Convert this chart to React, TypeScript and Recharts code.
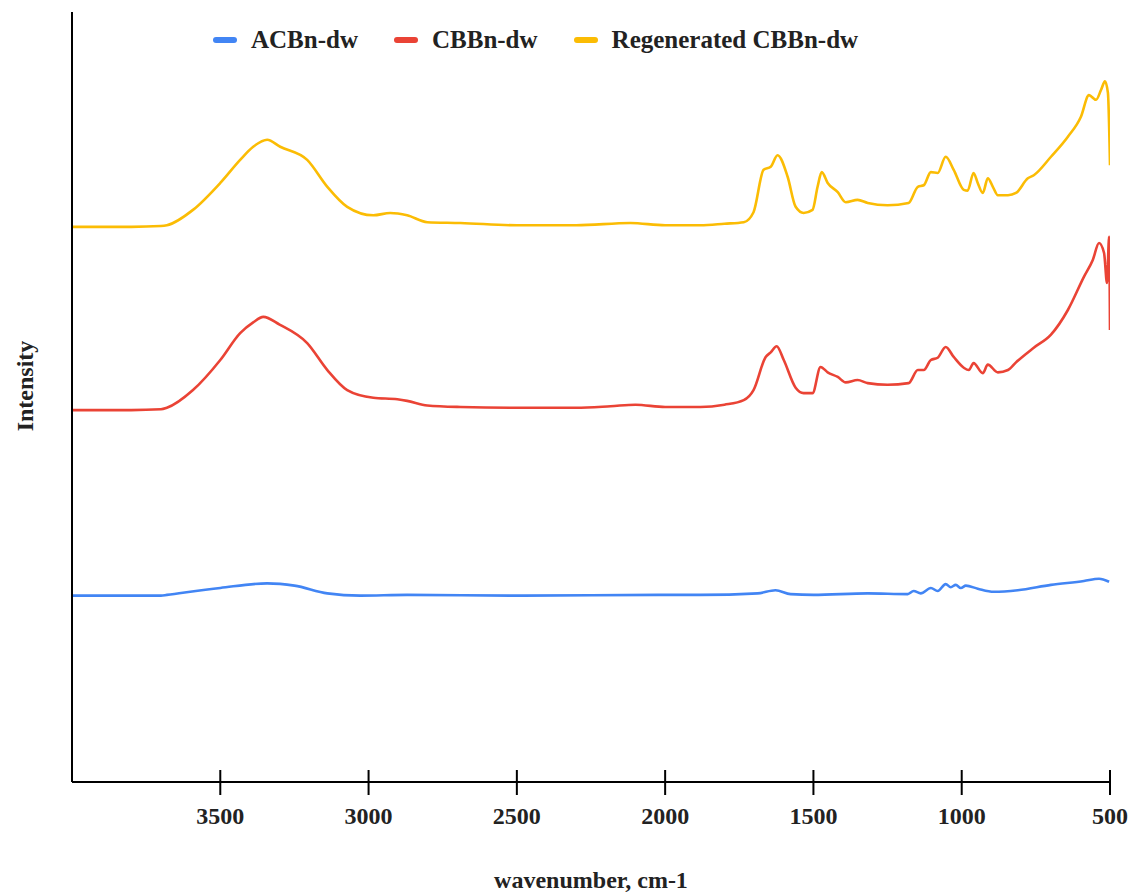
import React from 'react';
import { LineChart, Line, XAxis, YAxis, Legend } from 'recharts';

// FTIR spectra, wavenumber (cm-1) vs. stacked intensity (arbitrary units)
const acbnWavenumber = [4000, 3700, 3680, 3500, 3342, 3250, 3139, 3028, 2870, 2500, 2000, 1881, 1688, 1628, 1577, 1500, 1317, 1182, 1162, 1138, 1104, 1081, 1054, 1037, 1020, 1003, 986, 946, 892, 811, 699, 588, 537, 503];
const acbnIntensity = [24.2, 24.2, 24.3, 25.2, 25.8, 25.5, 24.5, 24.2, 24.3, 24.2, 24.3, 24.3, 24.5, 24.9, 24.4, 24.3, 24.5, 24.4, 24.8, 24.5, 25.2, 24.8, 25.7, 25.3, 25.6, 25.2, 25.5, 25.1, 24.7, 24.9, 25.6, 26.1, 26.4, 26.0];

const cbbnWavenumber = [4000, 3800, 3700, 3680, 3592, 3500, 3433, 3389, 3355, 3300, 3207, 3139, 3072, 2984, 2903, 2870, 2802, 2690, 2500, 2300, 2184, 2100, 2000, 1881, 1800, 1735, 1702, 1661, 1644, 1624, 1600, 1560, 1533, 1503, 1476, 1452, 1418, 1391, 1351, 1317, 1250, 1179, 1148, 1128, 1104, 1081, 1054, 1027, 993, 976, 960, 929, 912, 878, 844, 817, 757, 699, 642, 588, 558, 537, 520, 510, 503, 500];
const cbbnIntensity = [48.3, 48.3, 48.4, 48.6, 50.9, 54.8, 58.3, 59.7, 60.4, 59.4, 57.0, 53.5, 50.9, 49.9, 49.7, 49.5, 48.9, 48.7, 48.6, 48.6, 48.8, 49.0, 48.7, 48.7, 49.0, 49.6, 50.9, 55.2, 55.8, 56.6, 54.8, 51.2, 50.5, 50.5, 53.9, 53.2, 52.6, 51.9, 52.2, 51.8, 51.6, 51.8, 53.5, 53.5, 54.8, 55.1, 56.5, 55.2, 53.8, 53.5, 54.4, 53.1, 54.2, 53.2, 53.5, 54.5, 56.4, 58.1, 61.3, 65.6, 67.8, 70.0, 68.7, 64.8, 70.8, 58.7];

const regenWavenumber = [4000, 3800, 3700, 3680, 3592, 3500, 3433, 3389, 3342, 3298, 3207, 3139, 3072, 2984, 2927, 2870, 2802, 2690, 2500, 2300, 2117, 2000, 1881, 1800, 1735, 1702, 1668, 1644, 1621, 1587, 1560, 1533, 1503, 1486, 1472, 1452, 1418, 1391, 1351, 1317, 1250, 1179, 1148, 1128, 1104, 1081, 1054, 1027, 993, 980, 960, 946, 929, 912, 895, 878, 844, 817, 777, 757, 699, 642, 598, 571, 547, 530, 517, 507, 500];
const regenIntensity = [72.1, 72.1, 72.2, 72.3, 74.3, 77.8, 80.8, 82.5, 83.4, 82.5, 80.8, 77.3, 74.7, 73.6, 73.9, 73.6, 72.7, 72.6, 72.3, 72.3, 72.6, 72.3, 72.3, 72.5, 72.7, 74.0, 79.5, 79.9, 81.4, 78.6, 74.7, 73.9, 74.3, 77.3, 79.2, 77.8, 76.6, 75.3, 75.6, 75.2, 74.9, 75.2, 77.3, 77.5, 79.2, 79.1, 81.2, 79.5, 76.9, 76.8, 79.1, 77.8, 76.5, 78.4, 77.3, 76.2, 76.2, 76.5, 78.4, 78.8, 81.2, 83.8, 86.4, 89.2, 88.6, 89.9, 91.0, 89.5, 80.1];

const xTicks = [3500, 3000, 2500, 2000, 1500, 1000, 500];

const seriesNames = ['ACBn-dw', 'CBBn-dw', 'Regenerated CBBn-dw'];
const seriesColors = ['#4285F4', '#EA4335', '#FBBC04'];

const toPoints = (wn: number[], val: number[]) => wn.map((w, i) => ({ wn: w, v: val[i] }));

const acbnData = toPoints(acbnWavenumber, acbnIntensity);
const cbbnData = toPoints(cbbnWavenumber, cbbnIntensity);
const regenData = toPoints(regenWavenumber, regenIntensity);

const FONT = '"Liberation Serif", "Times New Roman", serif';

const XTick = (props: any) => {
  const { x, y, payload } = props;
  return (
    <g>
      <line x1={x} x2={x} y1={y - 12} y2={y + 13} stroke="#000" strokeWidth={2} />
      <text
        x={x}
        y={y + 36}
        textAnchor="middle"
        dominantBaseline="middle"
        fontFamily={FONT}
        fontWeight="bold"
        fontSize={24}
        fill="#222"
      >
        {payload.value}
      </text>
    </g>
  );
};

const LegendContent = () => (
  <div style={{ display: 'flex', alignItems: 'center', fontFamily: FONT, fontWeight: 'bold', fontSize: 25, color: '#222' }}>
    {seriesNames.map((name, i) => (
      <div key={name} style={{ display: 'flex', alignItems: 'center', marginRight: 36 }}>
        <div style={{ width: 24, height: 6, borderRadius: 3, background: seriesColors[i], marginRight: 14 }} />
        <span style={{ whiteSpace: 'nowrap' }}>{name}</span>
      </div>
    ))}
  </div>
);

export default function App() {
  return (
    <div style={{ position: 'absolute', left: 0, top: 0, width: 1137, height: 894, background: '#fff' }}>
      <LineChart width={1137} height={894} margin={{ top: 12, right: 27, bottom: 0, left: 0 }}>
        <XAxis
          type="number"
          dataKey="wn"
          domain={[500, 4000]}
          reversed
          allowDataOverflow
          ticks={xTicks}
          interval={0}
          height={112}
          tickSize={0}
          tickMargin={0}
          tickLine={false}
          axisLine={{ stroke: '#000', strokeWidth: 2 }}
          tick={<XTick />}
          label={{
            content: () => (
              <text
                x={591}
                y={882}
                textAnchor="middle"
                dominantBaseline="middle"
                fontFamily={FONT}
                fontWeight="bold"
                fontSize={24}
                fill="#222"
              >
                wavenumber, cm-1
              </text>
            ),
          }}
        />
        <YAxis
          type="number"
          domain={[0, 100]}
          width={72}
          tick={false}
          tickLine={false}
          axisLine={{ stroke: '#000', strokeWidth: 2 }}
          label={{
            content: () => (
              <text
                x={27}
                y={386}
                transform="rotate(-90 27 386)"
                textAnchor="middle"
                dominantBaseline="middle"
                fontFamily={FONT}
                fontWeight="bold"
                fontSize={24}
                fill="#222"
              >
                Intensity
              </text>
            ),
          }}
        />
        <Legend
          verticalAlign="middle"
          align="center"
          content={<LegendContent />}
          wrapperStyle={{ position: 'absolute', top: 26, left: 213, width: 'auto' }}
        />
        <Line data={acbnData} dataKey="v" name={seriesNames[0]} type="monotone" stroke={seriesColors[0]} strokeWidth={2.6} dot={false} isAnimationActive={false} />
        <Line data={cbbnData} dataKey="v" name={seriesNames[1]} type="monotone" stroke={seriesColors[1]} strokeWidth={2.6} dot={false} isAnimationActive={false} />
        <Line data={regenData} dataKey="v" name={seriesNames[2]} type="monotone" stroke={seriesColors[2]} strokeWidth={2.6} dot={false} isAnimationActive={false} />
      </LineChart>
    </div>
  );
}
